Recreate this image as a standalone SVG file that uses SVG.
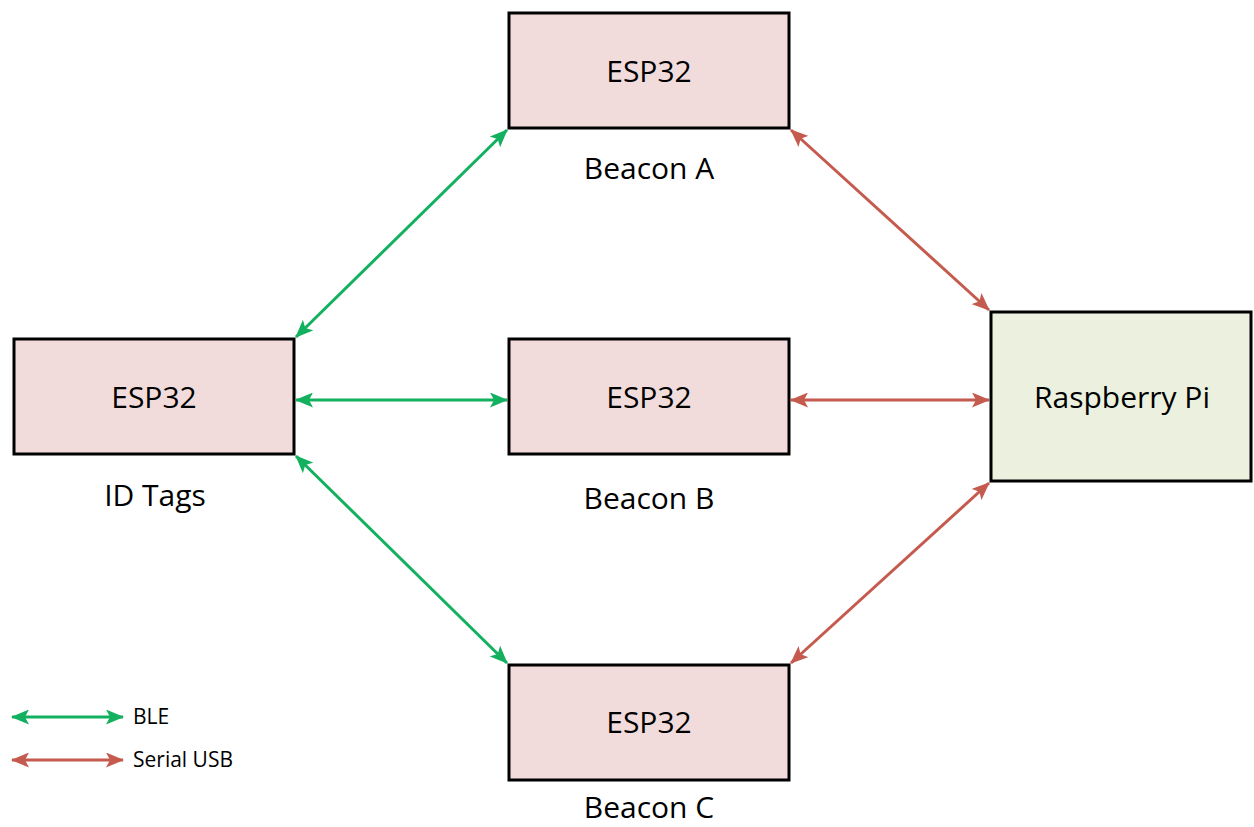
<svg xmlns="http://www.w3.org/2000/svg" width="1254" height="827" viewBox="0 0 1254 827">
<defs>
<style>
.box{fill:#F2DCDB;stroke:#000;stroke-width:3}
.pi{fill:#EBF1DE;stroke:#000;stroke-width:3}
.t{font-family:"Open Sans","Liberation Sans",sans-serif;font-size:30px;fill:#000;text-anchor:middle;dominant-baseline:central}
.lg{font-family:"Open Sans","Liberation Sans",sans-serif;font-size:21px;fill:#000;dominant-baseline:central}
.g{stroke:#13B15F;stroke-width:3;fill:none;marker-start:url(#ga);marker-end:url(#ga)}
.r{stroke:#C55A4E;stroke-width:3;fill:none;marker-start:url(#ra);marker-end:url(#ra)}
</style>
<marker id="ga" viewBox="0 0 18 15" refX="17" refY="7.5" markerWidth="18" markerHeight="15" markerUnits="userSpaceOnUse" orient="auto-start-reverse"><path d="M0,0 L18,7.5 L0,15 L4,7.5 Z" fill="#13B15F"/></marker>
<marker id="ra" viewBox="0 0 18 15" refX="17" refY="7.5" markerWidth="18" markerHeight="15" markerUnits="userSpaceOnUse" orient="auto-start-reverse"><path d="M0,0 L18,7.5 L0,15 L4,7.5 Z" fill="#C55A4E"/></marker>
</defs>
<rect width="1254" height="827" fill="#fff"/>
<g id="connectors">
<line class="g" x1="296" y1="337" x2="507" y2="130"/>
<line class="g" x1="296" y1="400" x2="507" y2="400"/>
<line class="g" x1="296" y1="456" x2="507" y2="663"/>
<line class="r" x1="791" y1="130" x2="989" y2="310"/>
<line class="r" x1="791" y1="400" x2="989" y2="400"/>
<line class="r" x1="989" y1="483" x2="791" y2="663"/>
</g>
<g id="beaconA"><rect class="box" x="509" y="13" width="280" height="115"/><text class="t" x="649" y="70">ESP32</text><text class="t" x="649" y="167">Beacon A</text></g>
<g id="idtags"><rect class="box" x="14" y="339" width="280" height="115"/><text class="t" x="154" y="396">ESP32</text><text class="t" x="155" y="494">ID Tags</text></g>
<g id="beaconB"><rect class="box" x="509" y="339" width="280" height="115"/><text class="t" x="649" y="396">ESP32</text><text class="t" x="649" y="497">Beacon B</text></g>
<g id="beaconC"><rect class="box" x="509" y="665" width="280" height="115"/><text class="t" x="649" y="721">ESP32</text><text class="t" x="649" y="806">Beacon C</text></g>
<g id="raspberrypi"><rect class="pi" x="991" y="312" width="260" height="169"/><text class="t" x="1122" y="396">Raspberry Pi</text></g>
<g id="legend">
<line class="g" x1="12" y1="717" x2="123" y2="717"/>
<text class="lg" x="133" y="716">BLE</text>
<line class="r" x1="12" y1="760" x2="123" y2="760"/>
<text class="lg" x="133" y="759">Serial USB</text>
</g>
</svg>
